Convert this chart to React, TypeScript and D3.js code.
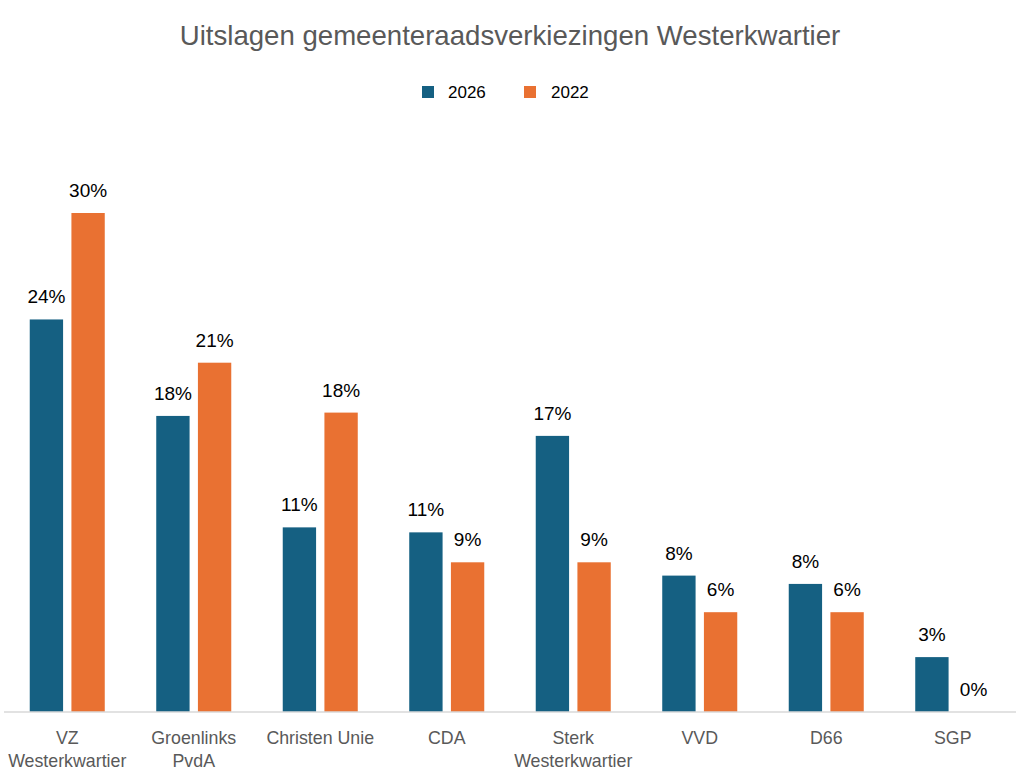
import * as d3 from "d3";

const WIDTH = 1024;
const HEIGHT = 778;

const TITLE = "Uitslagen gemeenteraadsverkiezingen Westerkwartier";

const PARTIES = [
  ["VZ", "Westerkwartier"],
  ["Groenlinks", "PvdA"],
  ["Christen Unie"],
  ["CDA"],
  ["Sterk", "Westerkwartier"],
  ["VVD"],
  ["D66"],
  ["SGP"],
];

const SERIES = ["2026", "2022"];
const VALUES_2026 = [23.6, 17.8, 11.1, 10.8, 16.6, 8.2, 7.7, 3.3];
const VALUES_2022 = [30.0, 21.0, 18.0, 9.0, 9.0, 6.0, 6.0, 0.0];

const COLORS = ["#156082", "#E97132"];

const LEFT = 4;
const RIGHT = 1016;
const BASE = 712;

const FONT = "'Liberation Sans', Arial, sans-serif";

export default function App() {
  const x = d3
    .scaleBand<number>()
    .domain(d3.range(PARTIES.length))
    .range([LEFT, RIGHT])
    .paddingInner(0.407)
    .paddingOuter(0.2035);

  const inner = d3
    .scaleBand<string>()
    .domain(SERIES)
    .range([0, x.bandwidth()])
    .paddingInner(0.2);

  // 30% sits at y=213
  const y = d3.scaleLinear().domain([0, 30]).range([BASE, 213]);

  const rows = [VALUES_2026, VALUES_2022];

  return (
    <svg
      width={WIDTH}
      height={HEIGHT}
      style={{ position: "absolute", left: 0, top: 0, background: "#fff" }}
    >
      <text
        x={510}
        y={45}
        textAnchor="middle"
        fontFamily={FONT}
        fontSize={27.6}
        fill="#595959"
      >
        {TITLE}
      </text>

      {/* legend */}
      <g fontFamily={FONT} fontSize={17} fill="#000">
        <rect x={422} y={86} width={12} height={12} fill={COLORS[0]} />
        <text x={448} y={98}>{SERIES[0]}</text>
        <rect x={524} y={86} width={12} height={12} fill={COLORS[1]} />
        <text x={551} y={98}>{SERIES[1]}</text>
      </g>

      {/* bars */}
      {rows.map((vals, s) => (
        <g key={SERIES[s]}>
          {vals.map((v, i) => {
            const bx = (x(i) ?? 0) + (inner(SERIES[s]) ?? 0);
            return (
              <g key={i}>
                <rect
                  x={bx}
                  y={y(v)}
                  width={inner.bandwidth()}
                  height={BASE - y(v)}
                  fill={COLORS[s]}
                />
                <text
                  x={bx + inner.bandwidth() / 2}
                  y={y(v) - 16}
                  textAnchor="middle"
                  fontFamily={FONT}
                  fontSize={19}
                  fill="#000"
                >
                  {d3.format(".0f")(v)}%
                </text>
              </g>
            );
          })}
        </g>
      ))}

      {/* axis */}
      <line x1={LEFT} x2={RIGHT} y1={BASE} y2={BASE} stroke="#d9d9d9" strokeWidth={1.5} />

      {PARTIES.map((lines, i) => (
        <text
          key={i}
          x={(x(i) ?? 0) + x.bandwidth() / 2}
          y={744}
          textAnchor="middle"
          fontFamily={FONT}
          fontSize={17.8}
          fill="#595959"
        >
          {lines.map((l, j) => (
            <tspan key={j} x={(x(i) ?? 0) + x.bandwidth() / 2} dy={j === 0 ? 0 : 23}>
              {l}
            </tspan>
          ))}
        </text>
      ))}
    </svg>
  );
}
